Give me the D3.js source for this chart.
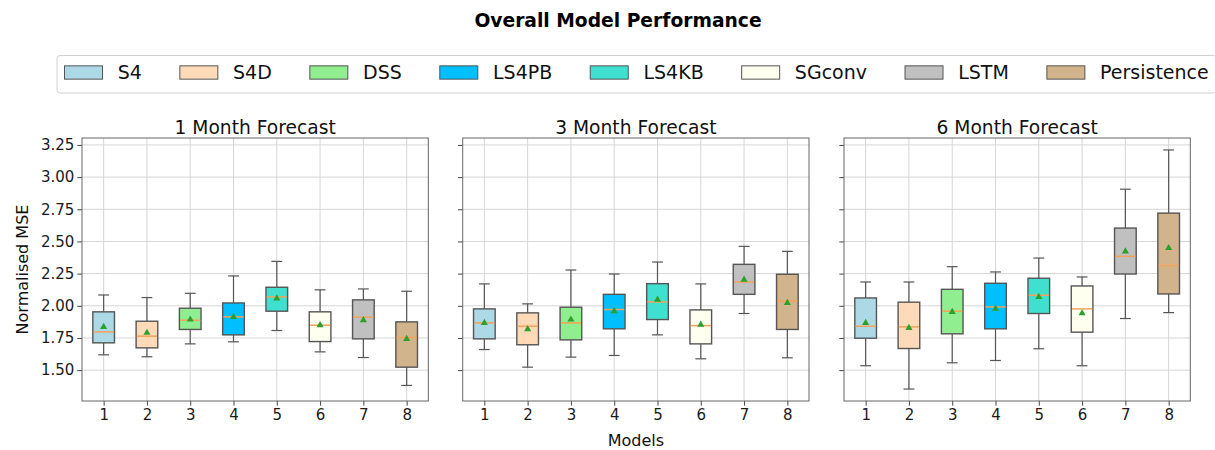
<!DOCTYPE html>
<html>
<head>
<meta charset="utf-8">
<script src="https://cdn.jsdelivr.net/npm/d3@7"></script>
<style>
  html, body { margin: 0; padding: 0; background: #fff; }
  svg { display: block; font-family: "DejaVu Sans", sans-serif; }
</style>
</head>
<body>
<svg id="chart" width="1215" height="450"></svg>
<script>
// ---------------- data ----------------
const models = ["S4", "S4D", "DSS", "LS4PB", "LS4KB", "SGconv", "LSTM", "Persistence"];
const modelColors = ["#add8e6", "#ffdab9", "#90ee90", "#00bfff", "#40e0d0", "#fffff0", "#c0c0c0", "#d2b48c"];
const horizons = ["1 Month Forecast", "3 Month Forecast", "6 Month Forecast"];
const xTicks = [1, 2, 3, 4, 5, 6, 7, 8];
const yTicks = [1.50, 1.75, 2.00, 2.25, 2.50, 2.75, 3.00, 3.25];

// one row per horizon, one value per model
const whiskerLow = [
  [1.619, 1.604, 1.704, 1.720, 1.808, 1.642, 1.598, 1.381],
  [1.660, 1.523, 1.601, 1.614, 1.774, 1.588, 1.940, 1.596],
  [1.534, 1.353, 1.557, 1.575, 1.666, 1.534, 1.901, 1.947]
];
const quartile1 = [
  [1.712, 1.673, 1.816, 1.774, 1.958, 1.722, 1.743, 1.523],
  [1.743, 1.697, 1.735, 1.821, 1.893, 1.704, 2.089, 1.816],
  [1.748, 1.668, 1.782, 1.821, 1.940, 1.795, 2.247, 2.092]
];
const medians = [
  [1.797, 1.764, 1.888, 1.914, 2.069, 1.849, 1.911, 1.753],
  [1.867, 1.841, 1.867, 1.971, 2.030, 1.846, 2.185, 2.038],
  [1.841, 1.836, 1.958, 1.991, 2.082, 1.976, 2.384, 2.312]
];
const quartile3 = [
  [1.953, 1.880, 1.981, 2.022, 2.144, 1.953, 2.046, 1.875],
  [1.976, 1.945, 1.989, 2.089, 2.172, 1.968, 2.322, 2.245],
  [2.061, 2.028, 2.128, 2.175, 2.214, 2.154, 2.604, 2.720]
];
const whiskerHigh = [
  [2.084, 2.064, 2.097, 2.232, 2.345, 2.124, 2.131, 2.113],
  [2.170, 2.015, 2.278, 2.247, 2.340, 2.170, 2.462, 2.423],
  [2.185, 2.185, 2.304, 2.263, 2.371, 2.224, 2.906, 3.211]
];
const means = [
  [1.836, 1.790, 1.893, 1.914, 2.058, 1.849, 1.888, 1.743],
  [1.867, 1.818, 1.893, 1.958, 2.048, 1.854, 2.203, 2.022],
  [1.867, 1.828, 1.953, 1.978, 2.069, 1.942, 2.423, 2.449]
];

// ---------------- layout ----------------
const svg = d3.select("#chart");
svg.append("rect").attr("width", 1215).attr("height", 450).attr("fill", "#fff");

const FS_BIG = 19, FS_TITLE = 18.7, FS_LABEL = 16, FS_TICK = 15;
const panelLefts = [82, 462.7, 844];
const panelWidth = 346.3;
const plotTop = 138, plotBottom = 401;

const allLow = d3.min(whiskerLow.flat()), allHigh = d3.max(whiskerHigh.flat());
const pad = (allHigh - allLow) * 0.05;
const y = d3.scaleLinear().domain([allLow - pad, allHigh + pad]).range([plotBottom, plotTop]);

const edge = "#555555";

horizons.forEach((title, p) => {
  const x = d3.scaleLinear().domain([0.5, 8.5]).range([panelLefts[p], panelLefts[p] + panelWidth]);
  const g = svg.append("g");

  // grid
  g.append("g").selectAll("line.vg").data(xTicks).join("line")
    .attr("x1", d => x(d)).attr("x2", d => x(d))
    .attr("y1", plotTop).attr("y2", plotBottom)
    .attr("stroke", "#d6d6d6").attr("stroke-width", 1);
  g.append("g").selectAll("line.hg").data(yTicks).join("line")
    .attr("x1", x.range()[0]).attr("x2", x.range()[1])
    .attr("y1", d => y(d)).attr("y2", d => y(d))
    .attr("stroke", "#d6d6d6").attr("stroke-width", 1);

  // axes
  const yAxis = d3.axisLeft(y).tickValues(yTicks).tickSize(4.7).tickPadding(3)
    .tickFormat(p === 0 ? d3.format(".2f") : () => "");
  const ya = g.append("g").attr("transform", `translate(${x.range()[0]},0)`).call(yAxis);
  const xAxis = d3.axisBottom(x).tickValues(xTicks).tickSize(4.7).tickPadding(3.5).tickFormat(d3.format("d"));
  const xa = g.append("g").attr("transform", `translate(0,${plotBottom})`).call(xAxis);
  [ya, xa].forEach(a => {
    a.select(".domain").remove();
    a.selectAll(".tick line").attr("stroke", "#444").attr("stroke-width", 1);
    a.selectAll(".tick text").attr("fill", "#1a1a1a").attr("font-size", FS_TICK)
      .attr("font-family", "DejaVu Sans");
  });

  // boxes
  const idx = d3.range(models.length);
  const bw = 0.5, cw = 0.25;
  const bg = g.append("g");
  // whiskers
  bg.selectAll("line.wl").data(idx).join("line")
    .attr("x1", i => x(xTicks[i])).attr("x2", i => x(xTicks[i]))
    .attr("y1", i => y(whiskerLow[p][i])).attr("y2", i => y(quartile1[p][i]))
    .attr("stroke", edge).attr("stroke-width", 1.2);
  bg.selectAll("line.wh").data(idx).join("line")
    .attr("x1", i => x(xTicks[i])).attr("x2", i => x(xTicks[i]))
    .attr("y1", i => y(whiskerHigh[p][i])).attr("y2", i => y(quartile3[p][i]))
    .attr("stroke", edge).attr("stroke-width", 1.2);
  // caps
  bg.selectAll("line.cl").data(idx).join("line")
    .attr("x1", i => x(xTicks[i] - cw / 2)).attr("x2", i => x(xTicks[i] + cw / 2))
    .attr("y1", i => y(whiskerLow[p][i])).attr("y2", i => y(whiskerLow[p][i]))
    .attr("stroke", edge).attr("stroke-width", 1.2);
  bg.selectAll("line.ch").data(idx).join("line")
    .attr("x1", i => x(xTicks[i] - cw / 2)).attr("x2", i => x(xTicks[i] + cw / 2))
    .attr("y1", i => y(whiskerHigh[p][i])).attr("y2", i => y(whiskerHigh[p][i]))
    .attr("stroke", edge).attr("stroke-width", 1.2);
  // box
  bg.selectAll("rect.box").data(idx).join("rect")
    .attr("x", i => x(xTicks[i] - bw / 2))
    .attr("width", i => x(xTicks[i] + bw / 2) - x(xTicks[i] - bw / 2))
    .attr("y", i => y(quartile3[p][i]))
    .attr("height", i => y(quartile1[p][i]) - y(quartile3[p][i]))
    .attr("fill", i => modelColors[i])
    .attr("stroke", edge).attr("stroke-width", 1.4);
  // median
  bg.selectAll("line.med").data(idx).join("line")
    .attr("x1", i => x(xTicks[i] - bw / 2) + 0.7).attr("x2", i => x(xTicks[i] + bw / 2) - 0.7)
    .attr("y1", i => y(medians[p][i])).attr("y2", i => y(medians[p][i]))
    .attr("stroke", "#f4a259").attr("stroke-width", 1.5);
  // mean
  bg.selectAll("path.mean").data(idx).join("path")
    .attr("d", d3.symbol().type(d3.symbolTriangle).size(22))
    .attr("transform", i => `translate(${x(xTicks[i])},${y(means[p][i])})`)
    .attr("fill", "#2ca02c");

  // spines
  g.append("rect")
    .attr("x", x.range()[0]).attr("y", plotTop)
    .attr("width", panelWidth).attr("height", plotBottom - plotTop)
    .attr("fill", "none").attr("stroke", "#666").attr("stroke-width", 1);

  // subplot title
  g.append("text")
    .attr("x", x.range()[0] + panelWidth / 2).attr("y", 134)
    .attr("text-anchor", "middle").attr("font-size", FS_TITLE).attr("fill", "#111")
    .text(title);
});

// axis labels
svg.append("text")
  .attr("x", panelLefts[1] + panelWidth / 2).attr("y", 446)
  .attr("text-anchor", "middle").attr("font-size", FS_LABEL).attr("fill", "#111")
  .text("Models");
svg.append("text")
  .attr("transform", `translate(28.3,${(plotTop + plotBottom) / 2}) rotate(-90)`)
  .attr("text-anchor", "middle").attr("font-size", FS_LABEL).attr("fill", "#111")
  .text("Normalised MSE");

// suptitle
svg.append("text")
  .attr("x", 618).attr("y", 27.3)
  .attr("text-anchor", "middle").attr("font-size", FS_TITLE).attr("font-weight", "bold").attr("fill", "#000")
  .text("Overall Model Performance");

// legend
const lg = svg.append("g");
const frame = lg.append("rect");
const handleLen = 2.0 * FS_BIG, handleH = 0.7 * FS_BIG, textPad = 0.8 * FS_BIG, colSpace = 2.0 * FS_BIG;
const legendY = 72.5;
let cx = 64.5;
models.forEach((m, i) => {
  lg.append("rect")
    .attr("x", cx).attr("y", legendY - handleH / 2)
    .attr("width", handleLen).attr("height", handleH)
    .attr("fill", modelColors[i]).attr("stroke", edge).attr("stroke-width", 1);
  const t = lg.append("text")
    .attr("x", cx + handleLen + textPad).attr("y", legendY + 0.36 * FS_BIG)
    .attr("font-size", FS_BIG).attr("fill", "#111").text(m);
  const w = t.node().getComputedTextLength();
  cx = cx + handleLen + textPad + w + colSpace;
});
const legendRight = cx - colSpace + 0.4 * FS_BIG;
frame.attr("x", 57).attr("y", 55.5).attr("width", legendRight - 57).attr("height", 37.5)
  .attr("rx", 3).attr("fill", "#fff").attr("stroke", "#d0d0d0").attr("stroke-width", 1);
</script>
</body>
</html>
